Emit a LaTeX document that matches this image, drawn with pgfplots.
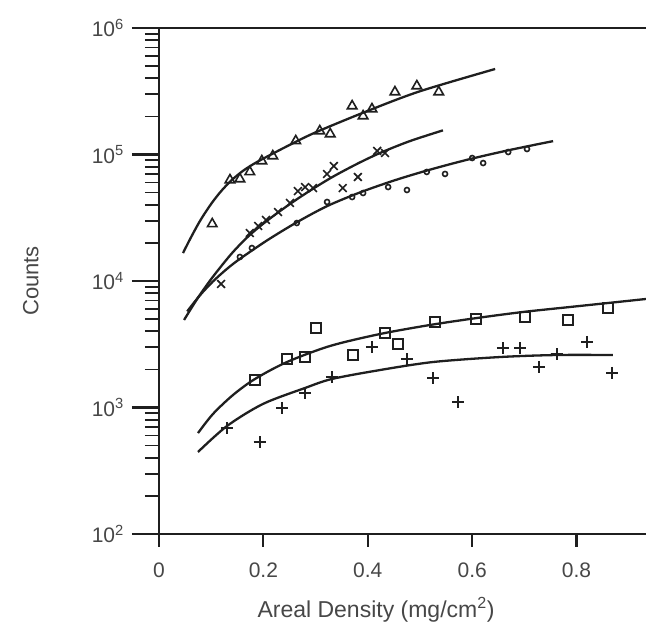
\documentclass[border=0pt]{standalone}
\usepackage{fontspec}
\setmainfont{Liberation Sans}
\usepackage{pgfplots}
\pgfplotsset{compat=1.18}
\definecolor{ink}{gray}{0.12}
\definecolor{txt}{gray}{0.28}
\begin{document}
\begin{tikzpicture}
\useasboundingbox (-159pt,-96pt) rectangle (487pt,534pt);
% axis carrying the y ticks
\begin{axis}[
  at={(0,0)}, anchor=south west,
  scale only axis, width=487pt, height=506pt,
  xmin=0, xmax=0.933, ymode=log, ymin=100, ymax=1e6,
  axis x line=none, axis y line*=left,
  axis line style={line width=2.4pt, ink},
  xtick=\empty,
  ytick={100,1000,10000,100000,1000000},
  yticklabels={10\textsuperscript{2},10\textsuperscript{3},10\textsuperscript{4},10\textsuperscript{5},10\textsuperscript{6}},
  ytick pos=left, tick align=outside,
  major tick length=27pt, minor tick length=14pt,
  major tick style={line width=2.2pt, ink},
  minor tick style={line width=1.8pt, ink},
  yticklabel style={font=\fontsize{21}{24}\selectfont, text=txt, inner sep=0pt, xshift=-8pt},
  ylabel={Counts},
  ylabel style={font=\fontsize{22}{24}\selectfont, text=txt, at={(axis description cs:-0.263,0.5)}, anchor=center},
]
\end{axis}
% axis carrying the data and x ticks
\begin{axis}[
  at={(0,0)}, anchor=south west,
  scale only axis, width=487pt, height=506pt,
  xmin=0, xmax=0.933, ymode=log, ymin=100, ymax=1e6,
  axis x line*=box, axis y line*=left,
  axis line style={line width=2.4pt, ink},
  xtick={0,0.2,0.4,0.6,0.8}, xticklabels={0,0.2,0.4,0.6,0.8},
  ytick=\empty,
  xtick pos=left, tick align=outside, major tick length=13pt,
  major tick style={line width=2.2pt, ink},
  xticklabel style={font=\fontsize{21}{24}\selectfont, text=txt, inner sep=0pt, yshift=-16pt},
  xlabel={Areal Density (mg/cm\textsuperscript{2})},
  xlabel style={font=\fontsize{23}{26}\selectfont, text=txt, at={(axis description cs:0.4456,-0.150)}, anchor=center},
  every axis plot/.append style={ink},
]
% fitted curves
\addplot[smooth, line width=2.3pt] coordinates {(0.046,16630) (0.06,21630) (0.079,30060) (0.1,40740) (0.12,51880) (0.14,63100) (0.16,73790) (0.18,83560) (0.2,92900) (0.25,118850) (0.3,149600) (0.4,221300) (0.5,316200) (0.644,474200)};
\addplot[smooth, line width=2.3pt] coordinates {(0.048,4920) (0.075,7413) (0.103,10760) (0.14,16630) (0.174,23120) (0.21,30620) (0.251,40640) (0.29,52000) (0.333,66680) (0.38,84530) (0.423,102600) (0.48,127350) (0.544,155200)};
\addplot[smooth, line width=2.3pt] coordinates {(0.054,5750) (0.078,7670) (0.103,9890) (0.13,12450) (0.155,14960) (0.207,20940) (0.264,29110) (0.322,39080) (0.385,50120) (0.45,62230) (0.513,74640) (0.59,90780) (0.669,107900) (0.755,127600)};
\addplot[smooth, line width=2.3pt] coordinates {(0.0747,628) (0.1034,889) (0.1418,1256) (0.1839,1681) (0.2452,2288) (0.3276,3063) (0.4234,3810) (0.5192,4490) (0.6092,5100) (0.6973,5690) (0.7874,6230) (0.8602,6700) (0.9330,7210)};
\addplot[smooth, line width=2.3pt] coordinates {(0.0747,445) (0.1303,714) (0.1992,1067) (0.2797,1426) (0.3314,1681) (0.4234,1978) (0.5249,2288) (0.6533,2506) (0.7625,2600) (0.8697,2600)};
% data points
\addplot[only marks, mark=triangle, mark size=5.5pt, line width=1.6pt] coordinates {(0.102,28250) (0.136,62900) (0.155,64000) (0.174,72800) (0.197,88900) (0.218,97300) (0.262,128000) (0.308,153400) (0.328,145300) (0.370,241700) (0.391,201400) (0.408,229000) (0.452,311900) (0.494,348000) (0.536,311900)};
\addplot[only marks, mark=x, mark size=5.5pt, line width=1.6pt] coordinates {(0.119,9470) (0.174,23950) (0.190,27200) (0.205,30400) (0.228,35100) (0.251,41400) (0.266,51400) (0.280,55300) (0.295,54300) (0.322,70100) (0.335,81100) (0.352,54300) (0.381,66400) (0.418,106700) (0.433,102800)};
\addplot[only marks, mark=o, mark size=2.5pt, line width=1.6pt] coordinates {(0.155,15490) (0.178,18230) (0.264,28730) (0.322,42150) (0.370,46100) (0.391,49600) (0.439,55300) (0.475,52400) (0.513,72800) (0.548,70200) (0.600,93800) (0.621,85600) (0.669,104600) (0.705,110500)};
\addplot[only marks, mark=square, mark size=5pt, line width=1.6pt] coordinates {(0.184,1648) (0.245,2417) (0.280,2506) (0.301,4250) (0.372,2600) (0.433,3880) (0.458,3178) (0.529,4740) (0.607,5010) (0.701,5190) (0.784,4920) (0.860,6120)};
\addplot[only marks, mark=+, mark size=6pt, line width=1.8pt] coordinates {(0.130,689) (0.193,533) (0.236,991) (0.280,1302) (0.331,1742) (0.408,3010) (0.475,2417) (0.525,1710) (0.573,1104) (0.659,2951) (0.692,2951) (0.728,2090) (0.762,2647) (0.820,3296) (0.868,1875)};
\end{axis}
\end{tikzpicture}
\end{document}
